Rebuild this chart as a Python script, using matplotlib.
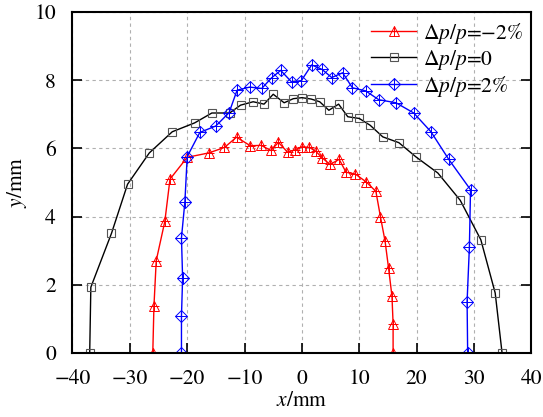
import numpy as np
import matplotlib
matplotlib.use('Agg')
import matplotlib.pyplot as plt
from matplotlib.legend_handler import HandlerTuple

plt.rcParams['font.family'] = 'STIXGeneral'
plt.rcParams['mathtext.fontset'] = 'stix'

# dp/p = -2%
x_m2 = [-26.0, -25.8, -25.4, -23.9, -23.0, -20.0, -16.2, -13.5, -11.4, -9.0, -7.1,
        -5.4, -4.1, -2.5, -1.2, 0.0, 1.3, 2.4, 3.5, 4.9, 6.5, 7.7, 9.3, 11.2, 12.9,
        13.7, 14.5, 15.1, 15.7, 15.9, 15.9]
y_m2 = [0.0, 1.37, 2.71, 3.86, 5.1, 5.74, 5.87, 6.03, 6.33, 6.08, 6.09,
        5.94, 6.18, 5.89, 5.96, 6.05, 6.03, 5.92, 5.73, 5.53, 5.68, 5.3, 5.25, 5.02, 4.74,
        3.99, 3.28, 2.5, 1.67, 0.86, 0.0]

# dp/p = 0
x_0 = [-37.0, -36.8, -33.2, -30.4, -26.6, -22.6, -18.7, -15.7, -12.6, -10.7, -8.5,
       -6.6, -5.0, -3.1, -1.5, 0.0, 1.6, 3.1, 4.7, 6.4, 8.0, 10.0, 11.9, 14.1, 16.9,
       19.9, 23.7, 27.6, 31.2, 33.7, 34.9]
y_0 = [0.0, 1.93, 3.51, 4.95, 5.87, 6.49, 6.75, 7.04, 7.04, 7.27, 7.37,
       7.30, 7.59, 7.34, 7.46, 7.49, 7.45, 7.37, 7.12, 7.30, 6.93, 6.88, 6.68, 6.34, 6.17,
       5.75, 5.28, 4.48, 3.32, 1.76, 0.0]

# dp/p = 2%
x_p2 = [-21.0, -21.0, -20.8, -21.0, -20.4, -20.0, -17.8, -15.0, -12.7, -11.3, -9.1,
        -7.0, -5.3, -3.7, -1.8, -0.1, 1.7, 3.5, 5.2, 7.1, 8.8, 11.1, 13.4, 16.4, 19.5,
        22.5, 25.6, 29.4, 29.2, 28.8, 28.9]
y_p2 = [0.0, 1.08, 2.20, 3.38, 4.44, 5.76, 6.47, 6.66, 7.05, 7.71, 7.80,
        7.76, 8.07, 8.29, 7.95, 7.99, 8.45, 8.32, 8.08, 8.22, 7.78, 7.69, 7.43, 7.34, 7.04,
        6.49, 5.68, 4.79, 3.10, 1.51, 0.0]

labels = ['\u0394$p$/$p$=\u22122%', '\u0394$p$/$p$=0', '\u0394$p$/$p$=2%']
xticks = list(range(-40, 41, 10))

fig = plt.figure(figsize=(5.43, 4.17), dpi=100)
ax = fig.add_axes([0.1335, 0.1535, 0.845, 0.8175])

l1, = ax.plot(x_m2, y_m2, color='red', lw=1.0, marker='^', ms=7, mfc='none', mec='red', mew=0.7)
p1, = ax.plot(x_m2, y_m2, ls='none', marker='+', ms=7, mec='red', mew=0.7)
l2, = ax.plot(x_0, y_0, color='black', lw=1.0, marker='s', ms=5.5, mfc='none', mec='#555555', mew=0.8)
l3, = ax.plot(x_p2, y_p2, color='blue', lw=1.0, marker='D', ms=6, mfc='none', mec='blue', mew=0.7)
p3, = ax.plot(x_p2, y_p2, ls='none', marker='+', ms=8, mec='blue', mew=0.7)

ax.set_xlim(-40, 40)
ax.set_ylim(0, 10)
ax.set_xticks(xticks)
ax.set_yticks(np.arange(0, 11, 2))
ax.set_xticklabels([str(v).replace('-', '\u2212') for v in xticks])
ax.tick_params(direction='in', length=7, width=1.2, labelsize=15.5, pad=12,
               top=False, right=True)
ax.grid(True, ls=(0, (3, 3)), color='#b0b0b0', lw=0.8)
for s in ax.spines.values():
    s.set_linewidth(1.5)

ax.set_xlabel(r'$x$/mm', fontsize=15.5, labelpad=1)
ax.set_ylabel(r'$y$/mm', fontsize=15.5, labelpad=4)

ax.legend([(l1, p1), l2, (l3, p3)], labels, loc='upper right', frameon=False,
          fontsize=15.5, handlelength=2.1, handletextpad=0.3, labelspacing=0.1,
          borderpad=0.2, borderaxespad=0.2,
          handler_map={tuple: HandlerTuple(ndivide=1)})

fig.savefig('out.png', dpi=100)
